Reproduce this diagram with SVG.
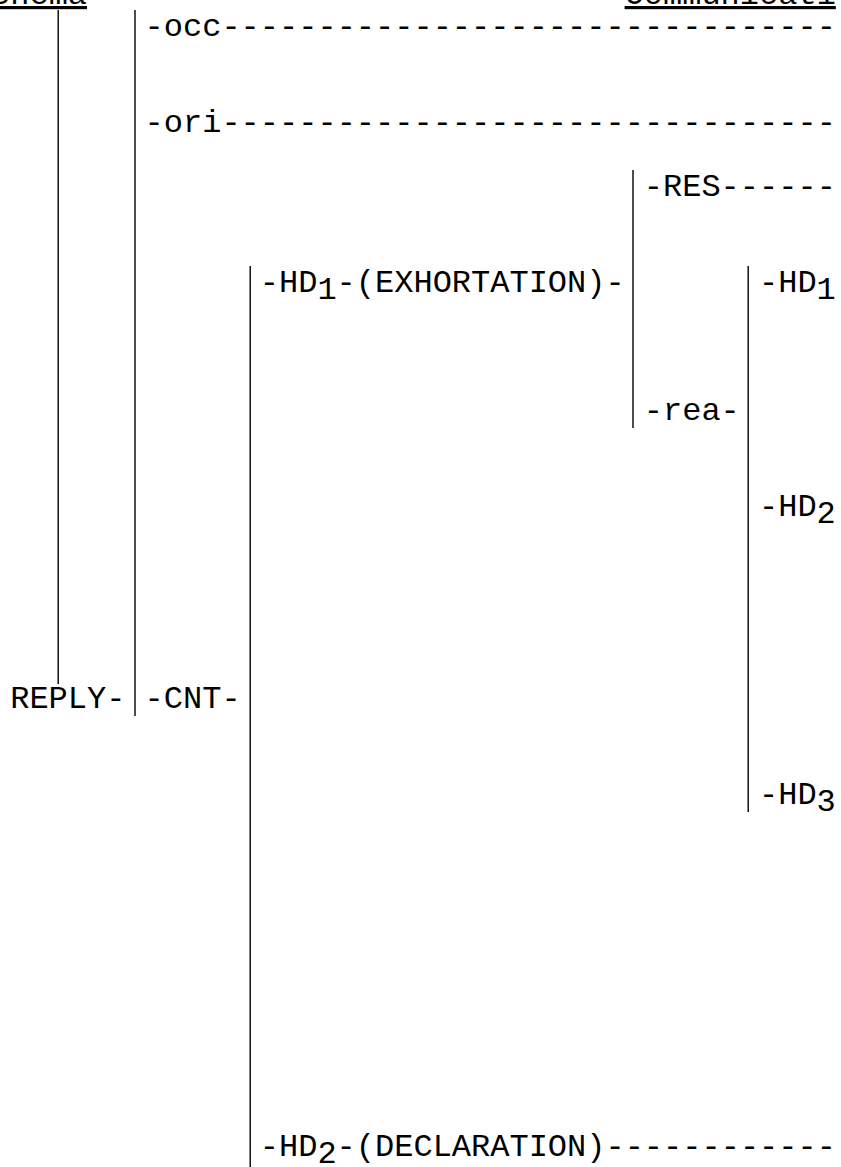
<svg xmlns="http://www.w3.org/2000/svg" width="841" height="1167" viewBox="0 0 841 1167">
<style>
  text { font-family: "Liberation Mono", "Courier New", monospace; font-size: 32px; fill: #000; }
  .hdr { text-decoration: underline; }
  .bar { stroke: #000; stroke-width: 1.4; fill: none; }
</style>
<rect x="0" y="0" width="841" height="1167" fill="#fff"/>
<g id="connectors">
  <line class="bar" x1="58.2" y1="10" x2="58.2" y2="684"/>
  <line class="bar" x1="135" y1="10" x2="135" y2="716"/>
  <line class="bar" x1="250.2" y1="266" x2="250.2" y2="1167"/>
  <line class="bar" x1="633" y1="170" x2="633" y2="428"/>
  <line class="bar" x1="748.2" y1="266" x2="748.2" y2="812"/>
</g>
<g id="header-schema"><text class="hdr" x="-28.2" y="4">Schema</text></g>
<g id="header-communicatee"><text class="hdr" x="624.6" y="4">Communicati</text></g>
<g id="occ"><text x="144.6" y="36">-occ--------------------------------</text></g>
<g id="ori"><text x="144.6" y="132">-ori--------------------------------</text></g>
<g id="res"><text x="643.8" y="196">-RES------</text></g>
<g id="hd1-exhortation"><text x="259.8" y="292">-HD<tspan dy="7">1</tspan><tspan dy="-7">-(EXHORTATION)-</tspan></text></g>
<g id="hd1"><text x="759" y="292">-HD<tspan dy="7">1</tspan></text></g>
<g id="rea"><text x="643.8" y="420">-rea-</text></g>
<g id="hd2"><text x="759" y="516">-HD<tspan dy="7">2</tspan></text></g>
<g id="reply"><text x="10.2" y="708">REPLY-</text></g>
<g id="cnt"><text x="144.6" y="708">-CNT-</text></g>
<g id="hd3"><text x="759" y="804">-HD<tspan dy="7">3</tspan></text></g>
<g id="hd2-declaration"><text x="259.8" y="1156">-HD<tspan dy="7">2</tspan><tspan dy="-7">-(DECLARATION)------------</tspan></text></g>
</svg>
